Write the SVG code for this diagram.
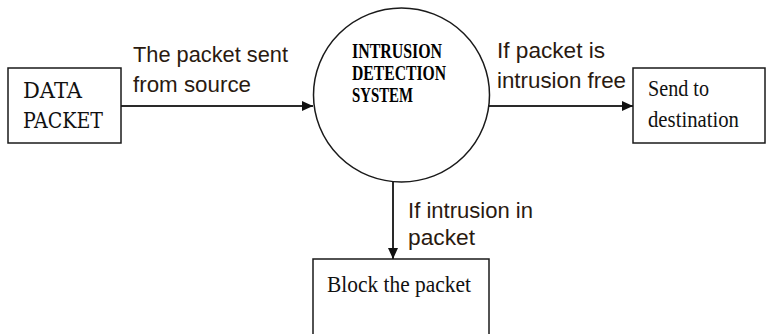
<svg xmlns="http://www.w3.org/2000/svg" width="766" height="334" viewBox="0 0 766 334">
<defs>
<style>
.box{fill:#fff;stroke:#1a1a1a;stroke-width:1.5}
.conn{stroke:#2a2a2a;stroke-width:2;fill:none}
.lbl{font-family:"Liberation Sans",Arial,sans-serif;font-size:22px;fill:#2a1a10}
.mono{font-family:"DejaVu Serif","Liberation Serif",serif;font-size:22px;fill:#111}
.ser{font-family:"Liberation Serif","Times New Roman",serif;font-size:23px;fill:#111}
.serb{font-family:"Liberation Serif","Times New Roman",serif;font-size:20px;font-weight:bold;fill:#000}
</style>
<marker id="arr" markerWidth="12" markerHeight="10" refX="11" refY="5" orient="auto" markerUnits="userSpaceOnUse">
<path d="M0,0 L11,5 L0,10 Z" fill="#111"/>
</marker>
</defs>
<rect width="766" height="334" fill="#fff"/>
<g id="connectors">
<line class="conn" x1="121" y1="106" x2="313" y2="106" marker-end="url(#arr)"/>
<line class="conn" x1="489" y1="106" x2="633" y2="106" marker-end="url(#arr)"/>
<line class="conn" x1="393" y1="182" x2="393" y2="259" marker-end="url(#arr)"/>
<text class="lbl" x="133" y="62" textLength="155" lengthAdjust="spacingAndGlyphs">The packet sent</text>
<text class="lbl" x="133" y="92" textLength="118" lengthAdjust="spacingAndGlyphs">from source</text>
<text class="lbl" x="497" y="58" textLength="108" lengthAdjust="spacingAndGlyphs">If packet is</text>
<text class="lbl" x="497" y="88" textLength="129" lengthAdjust="spacingAndGlyphs">intrusion free</text>
<text class="lbl" x="408" y="218" textLength="125" lengthAdjust="spacingAndGlyphs">If intrusion in</text>
<text class="lbl" x="408" y="245" textLength="67" lengthAdjust="spacingAndGlyphs">packet</text>
</g>
<g id="data-packet">
<rect class="box" x="8" y="68" width="113" height="75"/>
<text class="mono" x="23" y="98" textLength="59" lengthAdjust="spacingAndGlyphs">DATA</text>
<text class="mono" x="23" y="128" textLength="80" lengthAdjust="spacingAndGlyphs">PACKET</text>
</g>
<g id="ids">
<ellipse class="box" cx="401.5" cy="95" rx="88" ry="87"/>
<text class="serb" x="352" y="58" textLength="90" lengthAdjust="spacingAndGlyphs">INTRUSION</text>
<text class="serb" x="352" y="80" textLength="94" lengthAdjust="spacingAndGlyphs">DETECTION</text>
<text class="serb" x="352" y="102" textLength="61" lengthAdjust="spacingAndGlyphs">SYSTEM</text>
</g>
<g id="send">
<rect class="box" x="633" y="68" width="132" height="75"/>
<text class="ser" x="648" y="96" textLength="61" lengthAdjust="spacingAndGlyphs">Send to</text>
<text class="ser" x="648" y="127" textLength="91" lengthAdjust="spacingAndGlyphs">destination</text>
</g>
<g id="block">
<rect class="box" x="313" y="259" width="176" height="90"/>
<text class="ser" x="327" y="292" textLength="144" lengthAdjust="spacingAndGlyphs">Block the packet</text>
</g>
</svg>
